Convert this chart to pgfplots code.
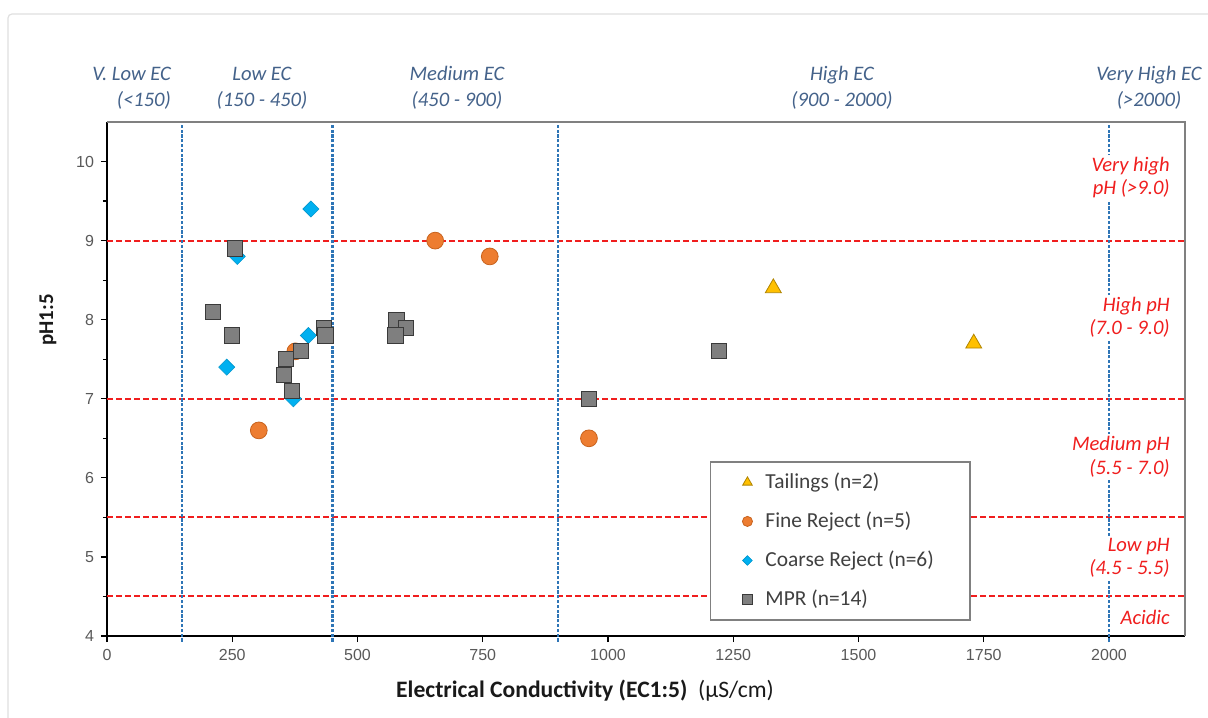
\documentclass[border=0pt]{standalone}
\usepackage{pgfplots}
\pgfplotsset{compat=1.18}
\usepackage{fontspec}
\setmainfont{Carlito}
\newfontfamily\arial{Liberation Sans}
\definecolor{tickgray}{HTML}{595959}
\definecolor{ecblue}{HTML}{44628A}
\definecolor{lineblue}{HTML}{2E75B6}
\definecolor{phred}{HTML}{F01E1E}
\definecolor{gold}{HTML}{FFC000}
\definecolor{golddark}{HTML}{B08400}
\definecolor{orangeF}{HTML}{ED7D31}
\definecolor{orangeD}{HTML}{C8631E}
\definecolor{cyanC}{HTML}{00B0F0}
\definecolor{grayM}{HTML}{7F7F7F}
\definecolor{grayD}{HTML}{3A3A3A}
\definecolor{legtext}{HTML}{404040}
\begin{document}
\begin{tikzpicture}
\path[use as bounding box] (-53.5pt,-40.5pt) rectangle (550.5pt,318pt);
\draw[gray!25, line width=0.6pt, rounded corners=2pt] (-49.5pt,311pt) rectangle (560pt,-50pt);
\begin{axis}[
  at={(0pt,0pt)}, anchor=origin,
  scale only axis, width=539pt, height=257pt,
  xmin=0, xmax=2151.7, ymin=4, ymax=10.5,
  clip=false,
  axis x line*=bottom, axis y line*=left,
  axis line style={black, line width=0.75pt},
  xtick={0,250,...,2000}, ytick={4,5,...,10},
  minor y tick num=1,
  tick align=outside, major tick length=3pt, minor tick length=2pt,
  tick style={black, line width=0.6pt},
  ticklabel style={font=\arial\fontsize{8}{9.5}\selectfont, text=tickgray},
  /pgf/number format/assume math mode=true,
  /pgf/number format/1000 sep={},
  legend style={at={(rel axis cs:0.559,0.340)}, anchor=north west,
    draw=gray, line width=0.8pt, font=\fontsize{10.7}{13}\selectfont,
    text=legtext, inner xsep=16pt, inner ysep=3.5pt, row sep=6.2pt, column sep=4.5pt},
  legend cell align=left,
  legend image code/.code={\draw[mark repeat=2,mark phase=2,#1] plot coordinates {(0cm,0cm)(0.15cm,0cm)(0.3cm,0cm)};},
  legend image post style={scale=0.6},
]
% reference lines
\addplot[forget plot, phred, line width=1pt, dash pattern=on 3pt off 1.5pt] coordinates {(0,9) (2151.7,9)};
\addplot[forget plot, phred, line width=1pt, dash pattern=on 3pt off 1.5pt] coordinates {(0,7) (2151.7,7)};
\addplot[forget plot, phred, line width=1pt, dash pattern=on 3pt off 1.5pt] coordinates {(0,5.5) (2151.7,5.5)};
\addplot[forget plot, phred, line width=1pt, dash pattern=on 3pt off 1.5pt] coordinates {(0,4.5) (2151.7,4.5)};
\addplot[forget plot, lineblue, line width=1.1pt, dash pattern=on 1.6pt off 0.8pt] coordinates {(150,3.93) (150,10.5)};
\addplot[forget plot, lineblue, line width=1.1pt, dash pattern=on 1.6pt off 0.8pt] coordinates {(450,3.93) (450,10.5)};
\addplot[forget plot, lineblue, line width=1.1pt, dash pattern=on 1.6pt off 0.8pt] coordinates {(900,3.93) (900,10.5)};
\addplot[forget plot, lineblue, line width=1.1pt, dash pattern=on 1.6pt off 0.8pt] coordinates {(2000,3.93) (2000,10.5)};
\draw[gray, line width=0.6pt] (rel axis cs:0,1) -- (rel axis cs:1,1) -- (rel axis cs:1,0);
% right-side pH labels
\begin{scope}[every node/.style={font=\itshape\fontsize{10.3}{11.8}\selectfont, text=phred, fill=white, inner sep=1pt, align=right, anchor=east}]
\node at (axis cs:2126,9.80) {Very high\\pH (>9.0)};
\node at (axis cs:2126,8.03) {High pH\\(7.0 - 9.0)};
\node at (axis cs:2126,6.27) {Medium pH\\(5.5 - 7.0)};
\node at (axis cs:2126,4.99) {Low pH\\(4.5 - 5.5)};
\node at (axis cs:2126,4.24) {Acidic};
\end{scope}
% data
\addplot[only marks, mark=triangle*, mark size=4.6pt, mark options={fill=gold, draw=golddark, line width=0.4pt}] coordinates {(1330,8.4) (1730,7.7)};
\addlegendentry{Tailings (n=2)}
\addplot[only marks, mark=*, mark size=4.2pt, mark options={fill=orangeF, draw=orangeD, line width=0.4pt}] coordinates {(303,6.6) (376,7.6) (655,9.0) (764,8.8) (962,6.5)};
\addlegendentry{Fine Reject (n=5)}
\addplot[only marks, mark=square*, mark size=2.85pt, mark options={rotate=45, fill=cyanC, draw=cyanC!85!black, line width=0.3pt}] coordinates {(260,8.8) (239,7.4) (372,7.0) (402,7.8) (407,9.4) (435,7.8)};
\addlegendentry{Coarse Reject (n=6)}
\addplot[only marks, mark=square*, mark size=3.8pt, mark options={fill=grayM, draw=grayD, line width=0.5pt}] coordinates {(255,8.9) (211,8.1) (250,7.8) (388,7.6) (358,7.5) (353,7.3) (369,7.1) (433,7.9) (436,7.8) (578,8.0) (597,7.9) (576,7.8) (962,7.0) (1222,7.6)};
\addlegendentry{MPR (n=14)}
\end{axis}
% top EC labels
\begin{scope}[every node/.style={font=\itshape\fontsize{10.3}{13}\selectfont, text=ecblue, align=center}]
\node[anchor=east, align=right] at (35.5pt,274pt) {V. Low EC\\(<150)};
\node at (77.5pt,274pt) {Low EC\\(150 - 450)};
\node at (175pt,274pt) {Medium EC\\(450 - 900)};
\node at (367.5pt,274pt) {High EC\\(900 - 2000)};
\node at (521pt,274pt) {Very High EC\\(>2000)};
\end{scope}
% axis labels
\node[font=\fontsize{11.8}{14}\selectfont, text=black!90] at (239pt,-27.5pt) {\textbf{Electrical Conductivity (EC1:5)}~ (µS/cm)};
\node[font=\bfseries\fontsize{10.5}{12}\selectfont, text=black!90, rotate=90] at (-29.5pt,158pt) {pH1:5};
\end{tikzpicture}
\end{document}
